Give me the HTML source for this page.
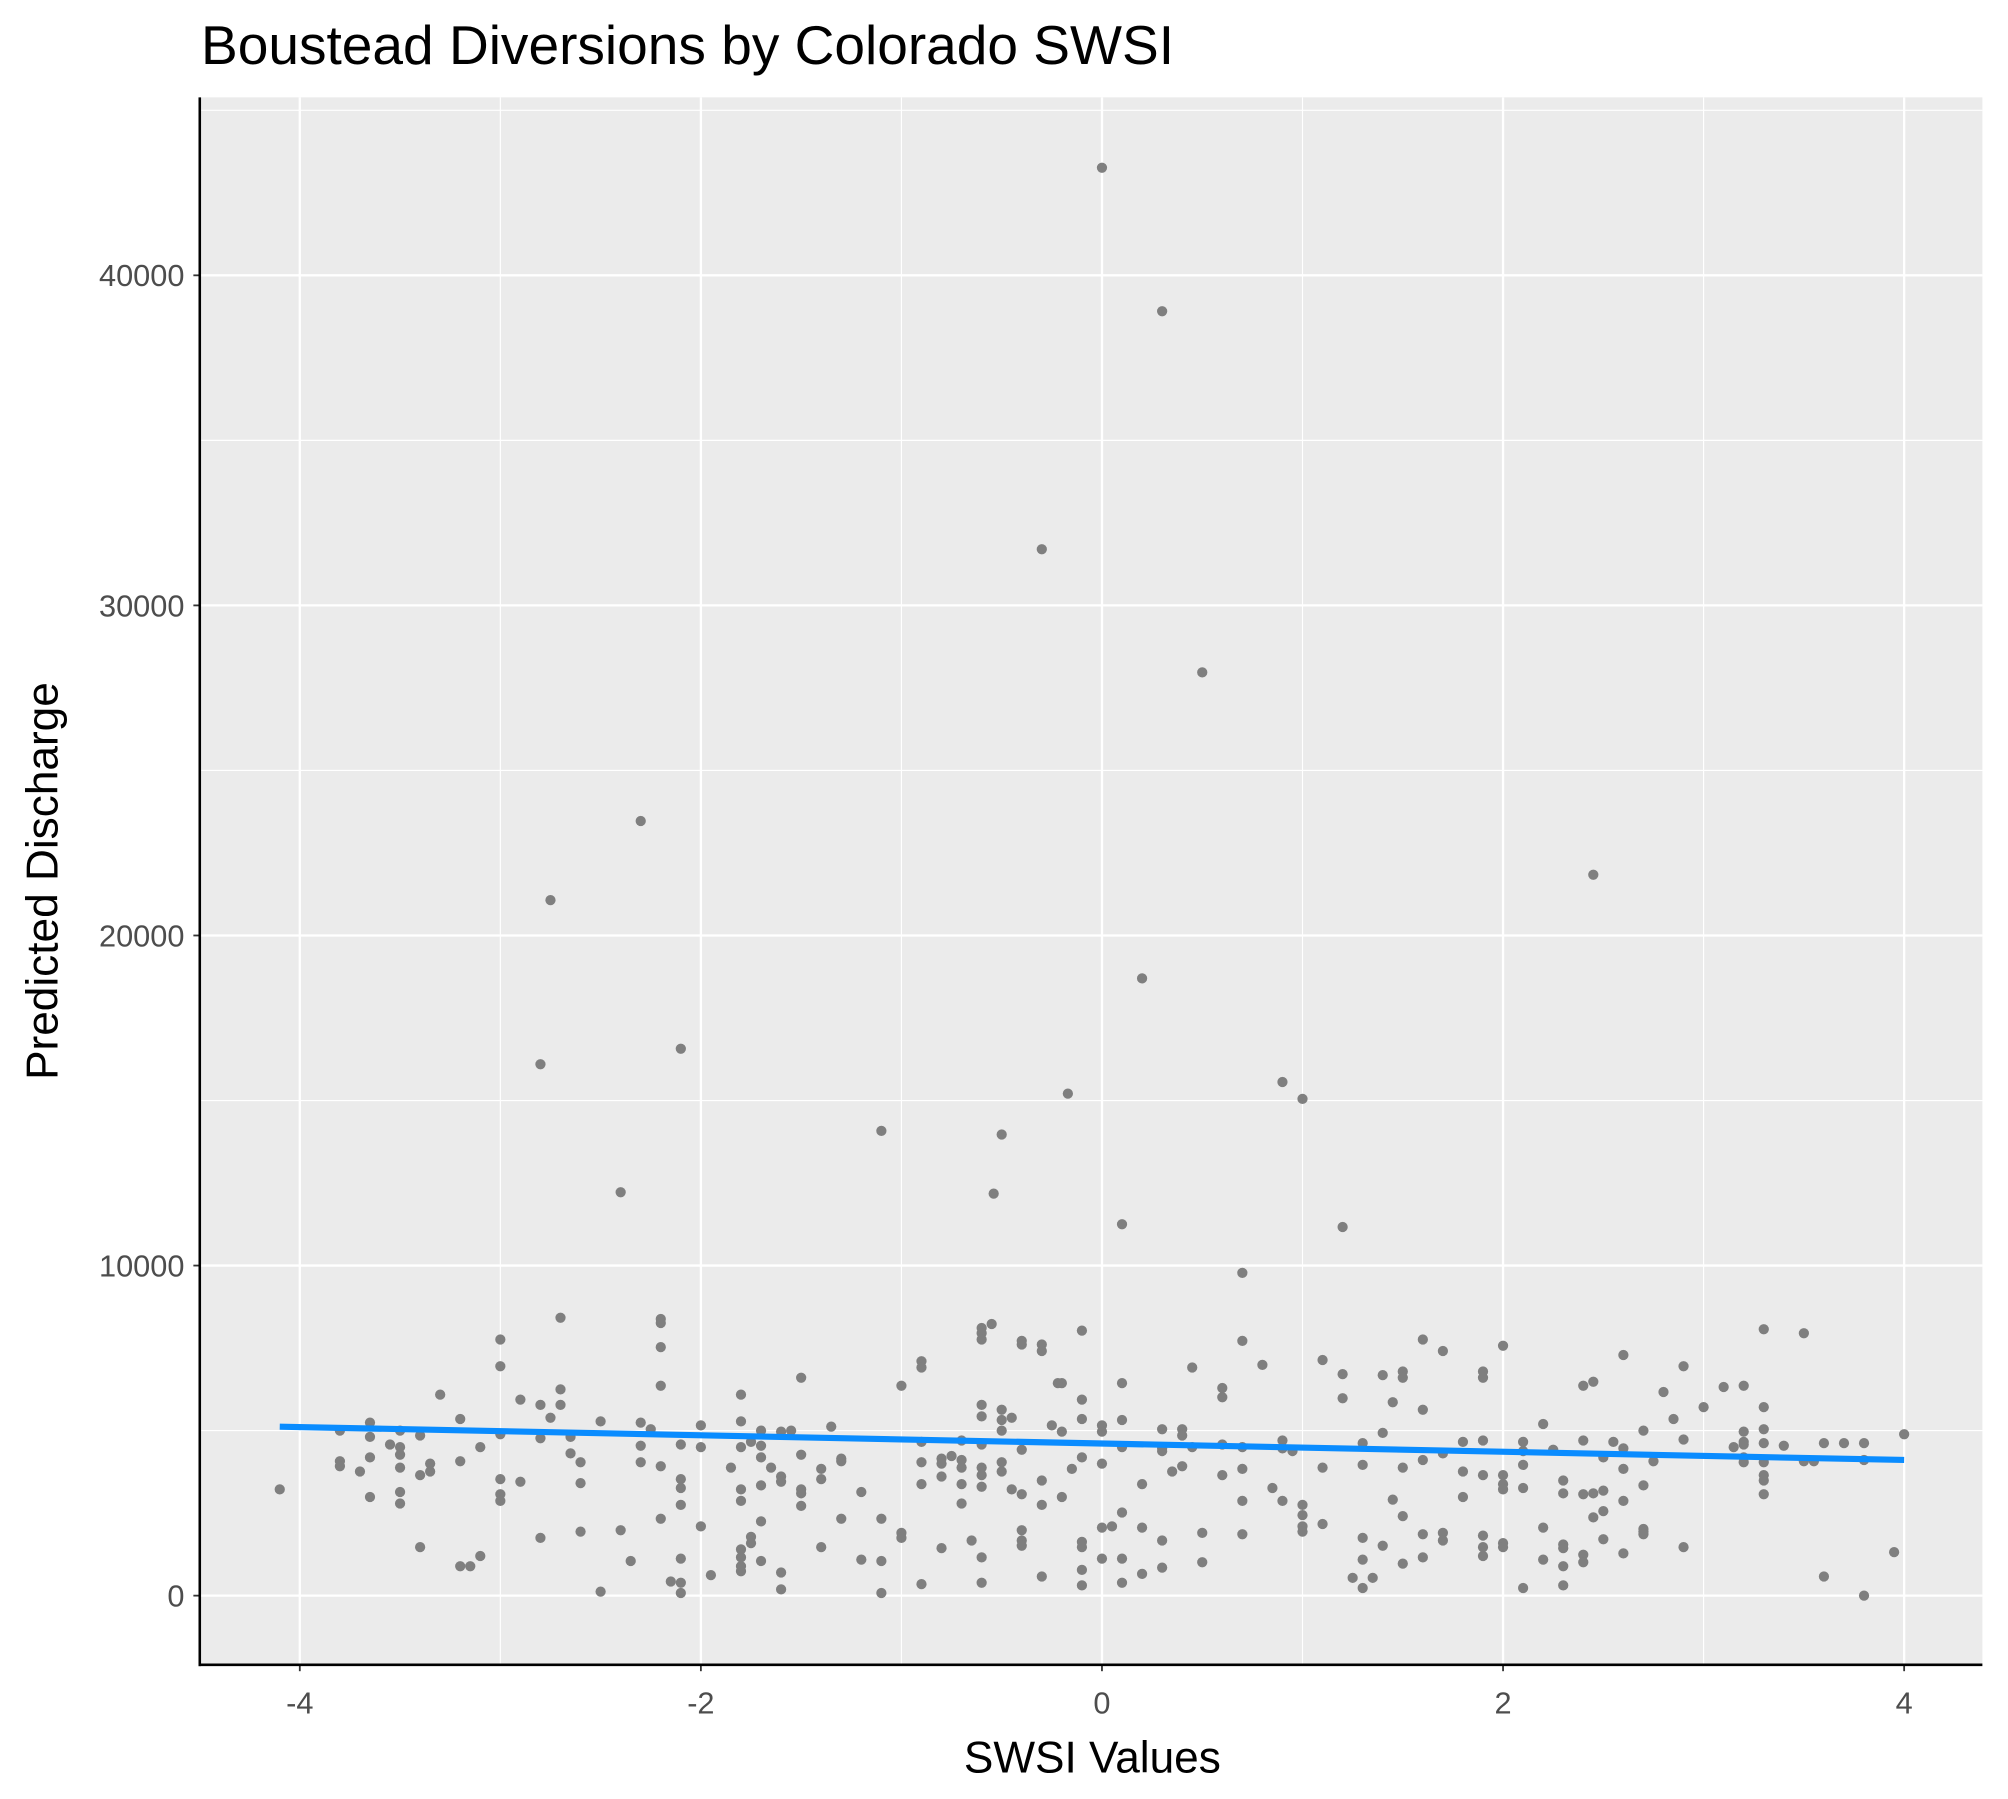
<!DOCTYPE html>
<html><head><meta charset="utf-8"><style>
html,body{margin:0;padding:0;background:#fff;}
svg{display:block;}
text{font-family:"Liberation Sans",Arial,sans-serif;}
</style></head><body>
<svg id="chart" width="2008" height="1799" viewBox="0 0 1568 1404.8" xmlns="http://www.w3.org/2000/svg">
<text x="157" y="50" font-size="43" fill="#000">Boustead Diversions by Colorado SWSI</text>
<g id="panel"></g>
<text x="853" y="1384" font-size="34.5" text-anchor="middle" fill="#000">SWSI Values</text>
<text transform="translate(45,688) rotate(-90)" font-size="34.5" text-anchor="middle" fill="#000">Predicted Discharge</text>
</svg>
<script>
const xTicks=[-4,-2,0,2,4];
const xMinor=[-3,-1,1,3];
const yTicks=[0,10000,20000,30000,40000];
const yMinor=[5000,15000,25000,35000,45000];
const pts=[
[0,43260],[0.3,38910],[-0.3,31700],[0.5,27970],[-2.3,23470],[2.45,21840],[-2.75,21070],[0.2,18700],[-2.8,16100],[-2.1,16570],[-0.17,15210],[0.9,15560],[1.0,15050],[-1.1,14080],[-0.5,13970],[-2.4,12220],[-0.54,12180],[0.1,11250],[1.2,11170],[0.7,9780],
[-4.1,3220],[-3.8,5000],[-3.8,4070],[-3.8,3920],[-3.7,3760],[-3.65,5240],[-3.65,4810],[-3.65,4190],[-3.65,2990],[-3.55,4580],
[-3.5,5000],[-3.5,4500],[-3.5,3880],[-3.5,3140],[-3.5,2790],[-3.5,4270],[-3.4,4850],[-3.4,3650],[-3.4,1470],[-3.35,3760],[-3.35,4000],[-3.3,6090],
[-3.2,5350],[-3.2,4070],[-3.2,890],[-3.15,890],[-3.1,4500],[-3.1,1200],[-3.0,7760],[-3.0,6950],[-3.0,4890],[-3.0,3530],[-3.0,3070],[-3.0,2870],
[-2.9,5940],[-2.9,3450],[-2.8,5780],[-2.8,4770],[-2.8,1750],[-2.75,5390],[-2.7,8420],[-2.7,6250],[-2.7,5780],[-2.65,4810],[-2.65,4310],
[-2.6,4040],[-2.6,3410],[-2.6,1940],[-2.5,5280],[-2.5,120],[-2.4,1980],[-2.35,1050],[-2.3,5240],[-2.3,4540],[-2.3,4040],[-2.25,5040],
[-2.2,8380],[-2.2,8260],[-2.2,7530],[-2.2,6360],[-2.2,3920],[-2.2,2330],[-2.1,4580],[-2.1,3530],[-2.1,3260],[-2.1,2750],[-2.1,1120],[-2.1,390],[-2.1,80],[-2.15,430],
[-2.0,5160],[-2.0,4500],[-2.0,2100],[-1.95,620],[-1.85,3880],[-1.8,6090],[-1.8,5280],[-1.8,4500],[-1.8,3220],[-1.8,2870],[-1.8,1400],[-1.8,1160],[-1.8,890],[-1.8,740],
[-1.75,1780],[-1.75,1590],[-1.75,4660],[-1.7,5000],[-1.7,4540],[-1.7,4190],[-1.7,3340],[-1.7,1050],[-1.7,2250],[-1.65,3880],
[-1.6,4970],[-1.6,3610],[-1.6,3450],[-1.6,700],[-1.6,190],[-1.55,5000],[-1.5,6600],[-1.5,4270],[-1.5,3220],[-1.5,2720],[-1.5,3100],
[-1.4,3840],[-1.4,3530],[-1.4,1470],[-1.35,5120],[-1.3,4070],[-1.3,4150],[-1.3,2330],[-1.2,3140],[-1.2,1090],[-1.1,2330],[-1.1,1050],[-1.1,80],
[-1.0,6360],[-1.0,1900],[-1.0,1750],[-0.9,7100],[-0.9,6910],[-0.9,4660],[-0.9,4040],[-0.9,3380],[-0.9,350],[-0.8,4150],[-0.8,4000],[-0.8,3610],[-0.8,1440],[-0.75,4230],
[-0.7,4700],[-0.7,4110],[-0.7,3880],[-0.7,3380],[-0.7,2790],[-0.6,8110],[-0.6,7950],[-0.6,7760],[-0.6,5780],[-0.6,5430],[-0.6,4580],[-0.6,3880],[-0.6,3650],[-0.6,3300],[-0.6,1160],[-0.6,390],
[-0.65,1670],[-0.55,8230],[-0.5,5320],[-0.5,5630],[-0.5,5000],[-0.5,4040],[-0.5,3760],[-0.45,5390],[-0.45,3220],
[-0.4,7720],[-0.4,7610],[-0.4,4420],[-0.4,3070],[-0.4,1980],[-0.4,1670],[-0.4,1510],[-0.3,7610],[-0.3,7410],[-0.3,3490],[-0.3,2750],[-0.3,580],[-0.25,5160],
[-0.2,6440],[-0.2,4970],[-0.2,2990],[-0.22,6440],[-0.15,3840],[-0.1,8030],[-0.1,5940],[-0.1,5350],[-0.1,4190],[-0.1,1630],[-0.1,1470],[-0.1,780],[-0.1,310],
[0,5160],[0,4970],[0,4000],[0,2060],[0,1120],[0.05,2100],[0.1,6440],[0.1,5320],[0.1,4500],[0.1,2520],[0.1,1120],[0.1,390],
[0.2,3380],[0.2,2060],[0.2,660],[0.3,5040],[0.3,4460],[0.3,4380],[0.3,1670],[0.3,850],[0.35,3760],[0.4,5040],[0.4,4850],[0.4,3920],[0.45,6910],[0.45,4500],
[0.5,1900],[0.5,1010],[0.6,6290],[0.6,6010],[0.6,4580],[0.6,3650],[0.7,7720],[0.7,4500],[0.7,3840],[0.7,2870],[0.7,1860],[0.8,6990],[0.85,3260],
[0.9,4700],[0.9,4460],[0.9,2870],[0.95,4380],[1.0,2750],[1.0,2440],[1.0,2100],[1.0,1940],[1.1,7140],[1.1,3880],[1.1,2170],[1.2,6710],[1.2,5980],[1.25,540],
[1.3,4620],[1.3,3960],[1.3,1750],[1.3,1090],[1.3,230],[1.35,540],[1.4,6680],[1.4,4930],[1.4,1510],[1.45,2910],[1.45,5860],
[1.5,6790],[1.5,6600],[1.5,3880],[1.5,2410],[1.5,970],[1.6,7760],[1.6,5630],[1.6,4110],[1.6,1860],[1.6,1160],[1.7,7410],[1.7,4310],[1.7,1900],[1.7,1670],
[1.8,4660],[1.8,3760],[1.8,2990],[1.9,6790],[1.9,6600],[1.9,4700],[1.9,3650],[1.9,1820],[1.9,1470],[1.9,1200],
[2.0,7570],[2.0,3650],[2.0,3380],[2.0,3220],[2.0,1590],[2.0,1470],[2.1,4660],[2.1,4380],[2.1,3960],[2.1,3260],[2.1,230],
[2.2,5200],[2.2,2060],[2.2,1090],[2.25,4420],[2.3,3490],[2.3,3100],[2.3,1550],[2.3,1440],[2.3,890],[2.3,310],
[2.4,6360],[2.4,4700],[2.4,3070],[2.4,1240],[2.4,1010],[2.45,6480],[2.45,3100],[2.45,2370],[2.5,4190],[2.5,3180],[2.5,2560],[2.5,1710],[2.55,4660],
[2.6,7290],[2.6,4460],[2.6,3840],[2.6,2870],[2.6,1280],[2.7,5000],[2.7,3340],[2.7,2020],[2.7,1940],[2.7,1860],[2.75,4070],[2.8,6170],[2.85,5350],
[2.9,6950],[2.9,4730],[2.9,1470],[3.0,5710],[3.1,6320],[3.15,4500],[3.2,4580],[3.2,4190],[3.2,4040],[3.2,4660],[3.2,4970],[3.2,6360],
[3.3,8070],[3.3,5710],[3.3,5040],[3.3,4620],[3.3,4040],[3.3,3650],[3.3,3490],[3.3,3070],[3.4,4540],[3.5,7950],[3.5,4070],[3.55,4070],
[3.6,4620],[3.6,580],[3.7,4620],[3.8,4620],[3.8,4110],[3.8,0],[3.95,1320],[4.0,4890]
];
const lineX=[-4.1,4.0];
const lineY=[5120,4110];

const L=156,R=1548,T=76,B=1300;
const sx=v=>860.5+v*156.6;
const sy=v=>1246-v*0.025775;
const NS="http://www.w3.org/2000/svg";
const g=document.getElementById('panel');
function mk(tag,attrs,parent){const e=document.createElementNS(NS,tag);for(const k in attrs)e.setAttribute(k,attrs[k]);(parent||g).appendChild(e);return e;}
const bg=mk('rect',{x:L,y:T,width:R-L,height:B-T,fill:'#ebebeb'});


xMinor.forEach(v=>{const l=mk('line',{x1:sx(v),x2:sx(v),y1:T,y2:B,stroke:'#fff','stroke-width':0.9});

});
yMinor.forEach(v=>{const l=mk('line',{x1:L,x2:R,y1:sy(v),y2:sy(v),stroke:'#fff','stroke-width':0.9});

});
xTicks.forEach(v=>{const l=mk('line',{x1:sx(v),x2:sx(v),y1:T,y2:B,stroke:'#fff','stroke-width':1.8});


const t=mk('line',{x1:sx(v),x2:sx(v),y1:B,y2:B+5,stroke:'#333','stroke-width':1.4});


const tx=mk('text',{x:sx(v),y:B+38,'font-size':24,fill:'#4d4d4d','text-anchor':'middle'});
tx.textContent=String(v);

});
yTicks.forEach(v=>{const l=mk('line',{x1:L,x2:R,y1:sy(v),y2:sy(v),stroke:'#fff','stroke-width':1.8});


const t=mk('line',{x1:L-5,x2:L,y1:sy(v),y2:sy(v),stroke:'#333','stroke-width':1.4});


const tx=mk('text',{x:L-12,y:sy(v)+8.5,'font-size':24,fill:'#4d4d4d','text-anchor':'end'});
tx.textContent=String(v);

});
pts.forEach(p=>{const c=mk('circle',{cx:sx(p[0]),cy:sy(p[1]),r:4,fill:'#7f7f7f'});

});
const fl=mk('line',{x1:sx(lineX[0]),y1:sy(lineY[0]),x2:sx(lineX[1]),y2:sy(lineY[1]),stroke:'#0a8cff','stroke-width':4.8});


const ay=mk('line',{x1:L,x2:L,y1:T,y2:B+1,stroke:'#000','stroke-width':2});


const ax=mk('line',{x1:L-1,x2:R,y1:B,y2:B,stroke:'#000','stroke-width':2});


</script>
</body></html>
